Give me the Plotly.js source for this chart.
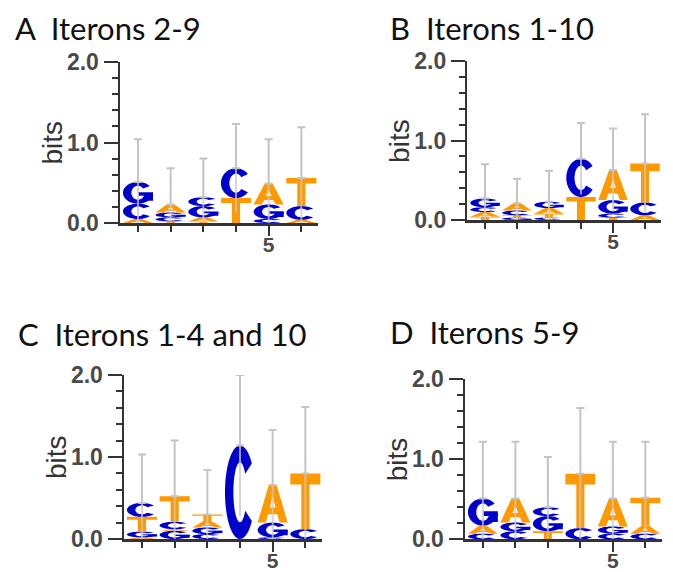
<!DOCTYPE html>
<html>
<head>
<meta charset="utf-8">
<script src="https://cdn.plot.ly/plotly-3.0.1.min.js"></script>
<style>html,body{margin:0;padding:0;background:#fff}#chart{width:673px;height:572px}</style>
</head>
<body>
<div id="chart"></div>
<script>
// ---------- data ----------
const positions = [1, 2, 3, 4, 5, 6];
const panelTitles = ["A&nbsp; Iterons 2-9", "B&nbsp; Iterons 1-10", "C&nbsp; Iterons 1-4 and 10", "D&nbsp; Iterons 5-9"];
const yTickVals = [0, 1, 2];
const yTickText = ["0.0", "1.0", "2.0"];
const xTickVals = [5];
const xTickText = ["5"];
const yTitle = "bits";

// letters of each stack, bottom to top, with heights in bits
const lettersA = [["A","C","G"], ["T","C","G","A"], ["T","A","G","C"], ["T","C"], ["C","G","A"], ["A","C","T"]];
const heightsA = [[0.05,0.19,0.27], [0.02,0.05,0.06,0.10], [0.02,0.05,0.14,0.11], [0.31,0.37], [0.05,0.18,0.26], [0.04,0.17,0.35]];
const errTopA  = [1.04, 0.68, 0.80, 1.23, 1.04, 1.19];

const lettersB = [["T","A","C","G"], ["G","T","C","A"], ["C","T","A","G"], ["T","C"], ["T","C","G","A"], ["A","C","T"]];
const heightsB = [[0.04,0.06,0.06,0.11], [0.03,0.03,0.06,0.09], [0.03,0.05,0.07,0.08], [0.29,0.48], [0.03,0.05,0.17,0.38], [0.06,0.16,0.49]];
const errTopB  = [0.70, 0.52, 0.62, 1.22, 1.15, 1.33];

const lettersC = [["A","G","T","C"], ["G","A","C","T"], ["C","G","A","T"], ["C"], ["C","G","A"], ["C","T"]];
const heightsC = [[0.02,0.07,0.18,0.17], [0.10,0.02,0.09,0.31], [0.06,0.08,0.08,0.08], [1.14], [0.02,0.18,0.46], [0.12,0.68]];
const errTopC  = [1.03, 1.20, 0.84, 2.00, 1.33, 1.61];

const lettersD = [["C","A","G"], ["C","G","A"], ["T","G","C"], ["C","T"], ["C","G","A"], ["C","A","T"]];
const heightsD = [[0.07,0.10,0.34], [0.10,0.11,0.30], [0.10,0.19,0.11], [0.14,0.68], [0.07,0.09,0.35], [0.07,0.10,0.35]];
const errTopD  = [1.22, 1.22, 1.03, 1.64, 1.22, 1.22];

// ---------- styles ----------
const letterColor = {A: "#ff9900", T: "#ff9900", C: "#0000cc", G: "#0000cc"};
const W = 673, H = 572;
// panel frames in px: [left, right, top, bottom]
const frames = [[120, 317.7, 62, 223], [467.4, 661, 61, 220], [124, 321.7, 375, 539], [465, 661.6, 379.3, 539.3]];
const titlePos = [[13, 28], [388, 28], [16, 334], [388, 332]];
const glyphWidth = 0.92;

// ---------- glyph outlines in a unit box ----------
function arc(cx, cy, rx, ry, a0, a1, n) {
  const pts = [];
  for (let i = 0; i <= n; i++) {
    const a = (a0 + (a1 - a0) * i / n) * Math.PI / 180;
    pts.push([cx + rx * Math.cos(a), cy + ry * Math.sin(a)]);
  }
  return pts;
}
function ring(a0, a1) {
  return arc(0.5, 0.5, 0.5, 0.5, a0, a1, 48).concat(arc(0.5, 0.5, 0.22, 0.32, a1, a0, 48));
}
const glyphs = {
  T: [[[[0,1],[1,1],[1,0.8],[0.635,0.8],[0.635,0],[0.365,0],[0.365,0.8],[0,0.8]]]],
  A: [[[[0,0],[0.37,1],[0.63,1],[1,0],[0.73,0],[0.655,0.22],[0.345,0.22],[0.27,0]],
       [[0.405,0.40],[0.595,0.40],[0.5,0.70]]]],
  C: [[ring(38, 322)]],
  G: [[ring(38, 356)], [[[0.52,0.36],[1,0.36],[1,0.53],[0.52,0.53]]], [[[0.77,0.14],[1,0.14],[1,0.45],[0.77,0.45]]]]
};

// ---------- build ----------
const panels = [
  [lettersA, heightsA, errTopA],
  [lettersB, heightsB, errTopB],
  [lettersC, heightsC, errTopC],
  [lettersD, heightsD, errTopD]
];
const traces = [], shapes = [], annotations = [];
const layout = {
  width: W, height: H, margin: {l: 0, r: 0, t: 0, b: 0},
  paper_bgcolor: "#fff", plot_bgcolor: "#fff", showlegend: false
};
const yTickFont = {family: "Liberation Sans, Arial, sans-serif", size: 23, color: "#4a4a4a", weight: "bold"};
const xTickFont = {family: "Liberation Sans, Arial, sans-serif", size: 21, color: "#4a4a4a", weight: "bold"};

panels.forEach((p, k) => {
  const [letters, heights, errTop] = p;
  const sfx = k === 0 ? "" : String(k + 1);
  const xr = "x" + sfx, yr = "y" + sfx;
  const f = frames[k];
  layout["xaxis" + sfx] = {
    domain: [f[0] / W, f[1] / W], range: [0.45, 6.5], anchor: yr,
    showline: true, linecolor: "#333", linewidth: 2.5, mirror: false,
    showgrid: false, zeroline: false, fixedrange: true,
    ticks: "outside", ticklen: 10, tickwidth: 2, tickcolor: "#333",
    tickvals: xTickVals, ticktext: xTickText, tickfont: xTickFont, ticklabelstandoff: -9,
    minor: {ticks: "outside", tick0: 0, dtick: 1, ticklen: 6, tickwidth: 2, tickcolor: "#333", showgrid: false}
  };
  layout["yaxis" + sfx] = {
    domain: [1 - f[3] / H, 1 - f[2] / H], range: [0, 2], anchor: xr,
    showline: true, linecolor: "#333", linewidth: 2.5,
    showgrid: false, zeroline: false, fixedrange: true,
    ticks: "outside", ticklen: 14, tickwidth: 2, tickcolor: "#333",
    tickvals: yTickVals, ticktext: yTickText, tickfont: yTickFont,
    minor: {ticks: "outside", tick0: 0, dtick: 0.2, ticklen: 6, tickwidth: 2, tickcolor: "#333", showgrid: false}
  };

  const totals = [];
  positions.forEach((pos, i) => {
    let base = 0;
    letters[i].forEach((L, j) => {
      const h = heights[i][j];
      glyphs[L].forEach(part => {
        const d = part.map(poly => "M" + poly.map(([u, v]) =>
          (pos - glyphWidth / 2 + u * glyphWidth).toFixed(4) + "," + (base + v * h).toFixed(4)).join("L") + "Z").join("");
        shapes.push({type: "path", xref: xr, yref: yr, path: d, fillcolor: letterColor[L],
                     line: {width: 0}, layer: "below", fillrule: "evenodd"});
      });
      base += h;
    });
    totals.push(base);
  });

  const up = errTop.map((e, i) => e - totals[i]);
  const down = up.map((e, i) => Math.min(e, totals[i]));
  traces.push({
    type: "scatter", mode: "markers", x: positions, y: totals, xaxis: xr, yaxis: yr,
    marker: {size: 1, color: "rgba(0,0,0,0)"}, hoverinfo: "skip",
    error_y: {type: "data", symmetric: false, array: up, arrayminus: positions.map(() => 0),
              color: "#c4c4c4", thickness: 2, width: 4}
  });
  traces.push({
    type: "scatter", mode: "markers", x: positions, y: totals, xaxis: xr, yaxis: yr,
    marker: {size: 1, color: "rgba(0,0,0,0)"}, hoverinfo: "skip",
    error_y: {type: "data", symmetric: false, array: positions.map(() => 0), arrayminus: down,
              color: "rgba(200,200,200,0.75)", thickness: 2, width: 0}
  });

  annotations.push({
    xref: "paper", yref: "paper", x: titlePos[k][0] / W, y: 1 - titlePos[k][1] / H,
    xanchor: "left", yanchor: "middle", showarrow: false, text: panelTitles[k],
    font: {family: "Lato, Open Sans, sans-serif", size: 31, color: "#111"}
  });
  annotations.push({
    xref: "paper", yref: "paper", x: (f[0] - 68) / W, y: 1 - (f[2] + f[3]) / 2 / H,
    xanchor: "center", yanchor: "middle", showarrow: false, text: yTitle, textangle: -90,
    font: {family: "Liberation Sans, Arial, sans-serif", size: 28, color: "#333"}
  });
});

layout.shapes = shapes;
layout.annotations = annotations;
Plotly.newPlot("chart", traces, layout, {staticPlot: true, displayModeBar: false});
</script>
</body>
</html>
